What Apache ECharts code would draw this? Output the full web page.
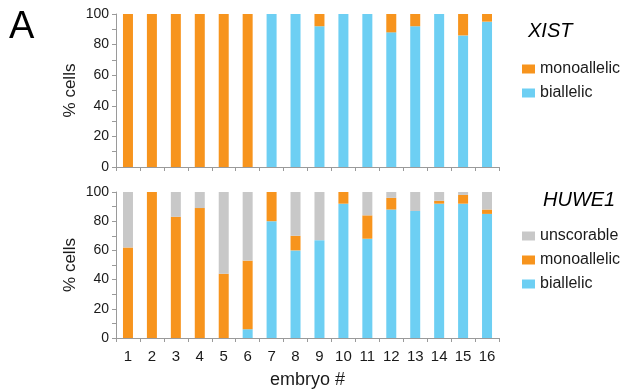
<!DOCTYPE html>
<html>
<head>
<meta charset="utf-8">
<script src="https://cdn.jsdelivr.net/npm/echarts@6/dist/echarts.min.js"></script>
<style>
  html, body { margin: 0; padding: 0; background: #fff; }
  #chart { width: 624px; height: 390px; }
</style>
</head>
<body>
<div id="chart"></div>
<script>
// Embryo numbers along the shared x axis
const embryos = ['1','2','3','4','5','6','7','8','9','10','11','12','13','14','15','16'];

// XIST: % of cells per embryo
const xistBiallelic   = [0, 0, 0, 0, 0, 0, 100, 100, 92, 100, 100, 88, 92, 100, 86, 95];
const xistMonoallelic = [100, 100, 100, 100, 100, 100, 0, 0, 8, 0, 0, 12, 8, 0, 14, 5];

// HUWE1: % of cells per embryo
const huweBiallelic   = [0, 0, 0, 0, 0, 6, 80, 60, 67, 92, 68, 88, 87, 92, 92, 85];
const huweMonoallelic = [62, 100, 83, 89, 44, 47, 20, 10, 0, 8, 16, 8, 0, 2, 6, 3];
const huweUnscorable  = [38, 0, 17, 11, 56, 47, 0, 30, 33, 0, 16, 4, 13, 6, 2, 12];

const yTicks = [0, 20, 40, 60, 80, 100];

const ORANGE = '#F7941D';
const BLUE = '#6DCFF3';
const GREY = '#C8C8C8';
const AXIS = '#9a9a9a';
const FONT = '"Liberation Sans", Arial, Helvetica, sans-serif';

const chart = echarts.init(document.getElementById('chart'), null, { renderer: 'canvas' });

function xAxisCfg(gridIndex, showLabels) {
  return {
    type: 'category',
    gridIndex: gridIndex,
    data: embryos,
    boundaryGap: true,
    axisLine: { show: true, lineStyle: { color: AXIS, width: 1 } },
    axisTick: { show: true, length: 4, alignWithLabel: false, lineStyle: { color: AXIS } },
    axisLabel: { show: showLabels, color: '#1a1a1a', fontSize: 15, fontFamily: FONT, margin: 11 },
    name: showLabels ? 'embryo #' : '',
    nameLocation: 'middle',
    nameGap: 33,
    nameMoveOverlap: false,
    nameTextStyle: { color: '#1a1a1a', fontSize: 18, fontFamily: FONT }
  };
}

function yAxisCfg(gridIndex) {
  return {
    type: 'value',
    gridIndex: gridIndex,
    min: yTicks[0],
    max: yTicks[yTicks.length - 1],
    interval: 20,
    axisLine: { show: true, lineStyle: { color: AXIS, width: 1 } },
    axisTick: { show: true, length: 4, lineStyle: { color: AXIS } },
    minorTick: { show: true, splitNumber: 2, length: 4, lineStyle: { color: AXIS } },
    splitLine: { show: false },
    axisLabel: { color: '#1a1a1a', fontSize: 14, fontFamily: FONT, margin: 7 },
    name: '% cells',
    nameLocation: 'middle',
    nameRotate: 90,
    nameGap: 37,
    nameMoveOverlap: false,
    nameTextStyle: { color: '#1a1a1a', fontSize: 17, fontFamily: FONT }
  };
}

function bar(name, data, color, xIdx, yIdx, stack) {
  return {
    name: name,
    type: 'bar',
    xAxisIndex: xIdx,
    yAxisIndex: yIdx,
    stack: stack,
    data: data,
    barWidth: 10,
    itemStyle: { color: color },
    emphasis: { disabled: true },
    animation: false
  };
}

function legendCfg(names, top) {
  return {
    data: names,
    orient: 'vertical',
    left: 522,
    top: top,
    padding: 0,
    icon: 'rect',
    itemWidth: 13,
    itemHeight: 9,
    itemGap: 8,
    selectedMode: false,
    textStyle: { color: '#1a1a1a', fontSize: 16, fontFamily: FONT }
  };
}

const option = {
  animation: false,
  textStyle: { fontFamily: FONT },
  grid: [
    { left: 116, width: 383, top: 14, height: 153 },
    { left: 116, width: 383, top: 192, height: 151 }
  ],
  xAxis: [xAxisCfg(0, false), xAxisCfg(1, true)],
  yAxis: [yAxisCfg(0), yAxisCfg(1)],
  legend: [
    legendCfg(['monoallelic', 'biallelic'], 61),
    legendCfg(['unscorable', 'monoallelic', 'biallelic'], 228)
  ],
  graphic: [
    { type: 'text', left: 9, top: 9, style: { text: 'A', fontSize: 38, fontFamily: FONT, fill: '#000' } },
    { type: 'text', left: 528, top: 21, style: { text: 'XIST', fontSize: 20, fontStyle: 'italic', fontFamily: FONT, fill: '#000' } },
    { type: 'text', left: 543, top: 190, style: { text: 'HUWE1', fontSize: 20, fontStyle: 'italic', fontFamily: FONT, fill: '#000' } }
  ],
  series: [
    bar('biallelic', xistBiallelic, BLUE, 0, 0, 'xist'),
    bar('monoallelic', xistMonoallelic, ORANGE, 0, 0, 'xist'),
    bar('biallelic', huweBiallelic, BLUE, 1, 1, 'huwe'),
    bar('monoallelic', huweMonoallelic, ORANGE, 1, 1, 'huwe'),
    bar('unscorable', huweUnscorable, GREY, 1, 1, 'huwe')
  ]
};

chart.setOption(option);
</script>
</body>
</html>
